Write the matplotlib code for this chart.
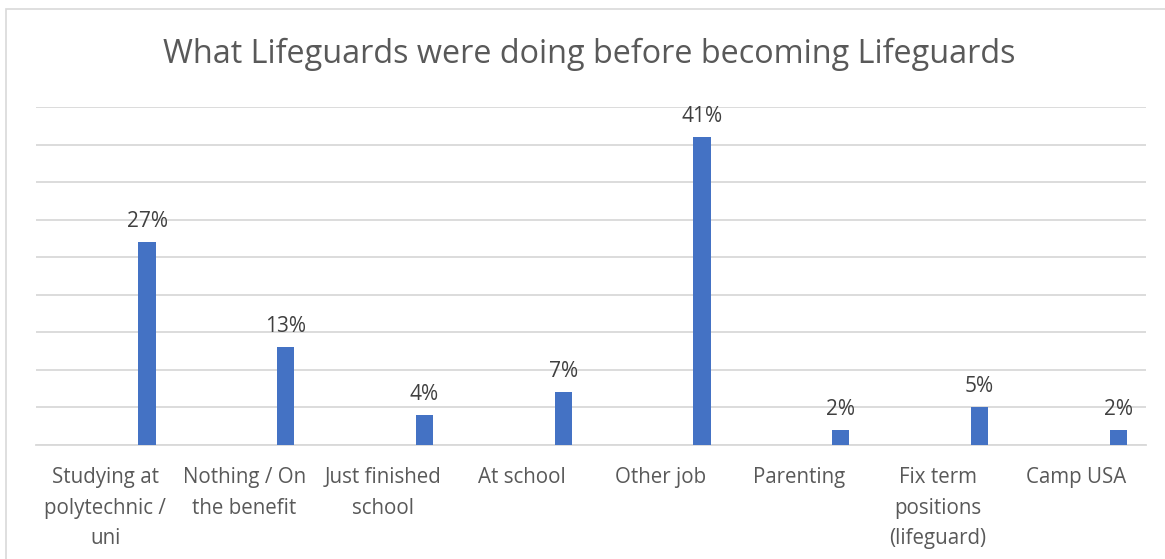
import matplotlib
matplotlib.use("Agg")
import matplotlib.pyplot as plt
from matplotlib.patches import Rectangle

categories = [
    "Studying at\npolytechnic /\nuni",
    "Nothing / On\nthe benefit",
    "Just finished\nschool",
    "At school",
    "Other job",
    "Parenting",
    "Fix term\npositions\n(lifeguard)",
    "Camp USA",
]
values = [27, 13, 4, 7, 41, 2, 5, 2]
title = "What Lifeguards were doing before becoming Lifeguards"

W, H = 1165, 559
fig = plt.figure(figsize=(W / 100, H / 100), dpi=100)
plt.rcParams["font.family"] = ["Open Sans", "DejaVu Sans"]

# chart border (runs off the right and bottom edges)
fig.patches.append(Rectangle((6 / W, -0.2), 1.2, 1.2 - 9 / H, transform=fig.transFigure,
                             fill=False, edgecolor="#d9d9d9", linewidth=1.2))

left, right = 36 / W, 1146 / W
bottom, top = 1 - 445 / H, 1 - 107 / H
ax = fig.add_axes([left, bottom, right - left, top - bottom])

n = len(categories)
x = list(range(n))
offset = 0.30
bar_w = 0.125
ax.bar([i + offset for i in x], values, width=bar_w, color="#4472c4", zorder=3)

for xi, v in zip(x, values):
    ax.annotate(f"{v}%", (xi + offset, v), xytext=(0, 11), textcoords="offset points",
                ha="center", va="baseline", fontsize=15, color="#404040")

ax.set_xlim(-0.5, n - 0.5)
ax.set_ylim(0, 45)
ax.set_yticks(range(0, 46, 5))
ax.yaxis.grid(True, color="#d9d9d9", linewidth=1.3, zorder=0)
ax.tick_params(axis="y", left=False, labelleft=False)
ax.set_xticks(x)
ax.set_xticklabels(categories, fontsize=14.8, color="#595959", linespacing=1.6)
ax.tick_params(axis="x", length=0, pad=16)
for s in ["top", "right", "left"]:
    ax.spines[s].set_visible(False)
ax.spines["bottom"].set_color("#d9d9d9")
ax.spines["bottom"].set_linewidth(1.3)

fig.text(589 / W, 1 - 54 / H, title, ha="center", va="center", fontsize=23.3, color="#595959")

fig.savefig("out.png", dpi=100)
